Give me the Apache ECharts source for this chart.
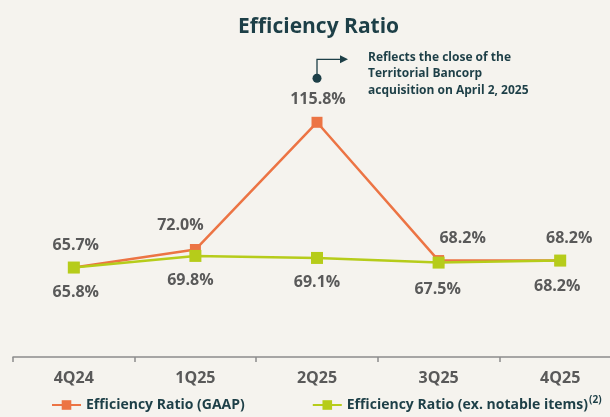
<!DOCTYPE html>
<html>
<head>
<meta charset="utf-8">
<script src="https://cdn.jsdelivr.net/npm/echarts@6/dist/echarts.min.js"></script>
<style>
  html, body { margin: 0; padding: 0; background: #f5f3ee; }
  #chart { width: 610px; height: 417px; }
</style>
</head>
<body>
<div id="chart"></div>
<script>
// data
const quarters = ['4Q24', '1Q25', '2Q25', '3Q25', '4Q25'];
const gaapRatio = [65.7, 72.0, 115.8, 68.2, 68.2];
const exNotableRatio = [65.8, 69.8, 69.1, 67.5, 68.2];
// where the GAAP point is drawn for 4Q24 (the deck puts it on the other line)
const gaapDrawn = [65.8, 72.0, 115.8, 68.2, 68.2];

// label nudges, [x, y]
const gaapLabelShift = [[2, 0], [-15, -2], [1, 0], [24, 0], [9, 0]];
const exLabelShift = [[2, 0], [-5, 0], [0, -1], [-1, 2], [-3, 1]];

const textGray = '#595959';
const navy = '#1d3f47';
const orange = '#ec7444';
const lime = '#b6cc1a';
const font = 'Open Sans';

const chart = echarts.init(document.getElementById('chart'));

const option = {
  backgroundColor: '#f5f3ee',
  animation: false,
  textStyle: { fontFamily: font },
  title: {
    text: 'Efficiency Ratio',
    left: 233,
    top: 12,
    textStyle: { fontFamily: font, fontSize: 21, fontWeight: 'bold', color: navy }
  },
  legend: {
    bottom: 0,
    left: 46,
    itemGap: 67,
    itemWidth: 29,
    itemHeight: 12,
    textStyle: {
      fontFamily: font, fontSize: 14, fontWeight: 'bold', color: navy,
      rich: {
        sup: { fontSize: 10, fontWeight: 'bold', color: navy, verticalAlign: 'top', padding: [0, 0, 9, 1] }
      }
    },
    data: ['Efficiency Ratio (GAAP)', 'Efficiency Ratio (ex. notable items)'],
    formatter: function (name) {
      return name.indexOf('notable') > 0 ? name + '{sup|(2)}' : name;
    }
  },
  grid: { left: 13, width: 608, top: 52, bottom: 60, outerBoundsMode: 'none' },
  xAxis: {
    type: 'category',
    data: quarters,
    boundaryGap: true,
    axisLine: { lineStyle: { color: '#8c8c8c', width: 1.5 } },
    axisTick: { show: true, length: 5, lineStyle: { color: '#8c8c8c', width: 1.5 } },
    axisLabel: { color: textGray, fontSize: 16, fontWeight: 'bold', margin: 13, fontFamily: font }
  },
  yAxis: {
    type: 'value',
    min: 35,
    max: 140,
    show: false,
    splitLine: { show: false }
  },
  series: [
    {
      name: 'Efficiency Ratio (GAAP)',
      type: 'line',
      symbol: 'rect',
      symbolSize: 11,
      itemStyle: { color: orange },
      lineStyle: { color: orange, width: 2.5 },
      data: gaapDrawn.map((v, i) => ({
        value: v,
        label: {
          show: true,
          position: 'top',
          distance: 9,
          offset: gaapLabelShift[i],
          formatter: gaapRatio[i].toFixed(1) + '%',
          color: textGray, fontSize: 16, fontWeight: 'bold', fontFamily: font
        }
      }))
    },
    {
      name: 'Efficiency Ratio (ex. notable items)',
      type: 'line',
      symbol: 'rect',
      symbolSize: 12,
      itemStyle: { color: lime },
      lineStyle: { color: lime, width: 2.5 },
      data: exNotableRatio.map((v, i) => ({
        value: v,
        label: {
          show: true,
          position: 'bottom',
          distance: 11,
          offset: exLabelShift[i],
          formatter: v.toFixed(1) + '%',
          color: textGray, fontSize: 16, fontWeight: 'bold', fontFamily: font
        }
      }))
    }
  ]
};

chart.setOption(option);

// callout above the 2Q25 peak
const peak = chart.convertToPixel({ seriesIndex: 0 }, [2, gaapDrawn[2]]);
const dotX = peak[0];
const dotY = peak[1] - 44;
chart.setOption({
  graphic: [
    { type: 'polyline', shape: { points: [[dotX, dotY], [dotX, dotY - 19], [dotX + 25, dotY - 19]] },
      style: { stroke: navy, lineWidth: 1.3, fill: null } },
    { type: 'polygon', shape: { points: [[dotX + 23, dotY - 23], [dotX + 31, dotY - 19], [dotX + 23, dotY - 15]] },
      style: { fill: navy } },
    { type: 'circle', shape: { cx: dotX, cy: dotY, r: 4.5 }, style: { fill: navy } },
    { type: 'text', left: dotX + 51, top: dotY - 29,
      style: { text: 'Reflects the close of the\nTerritorial Bancorp\nacquisition on April 2, 2025',
        fill: navy, font: 'bold 12px "Open Sans"', lineHeight: 16.5 } }
  ]
});
</script>
</body>
</html>
